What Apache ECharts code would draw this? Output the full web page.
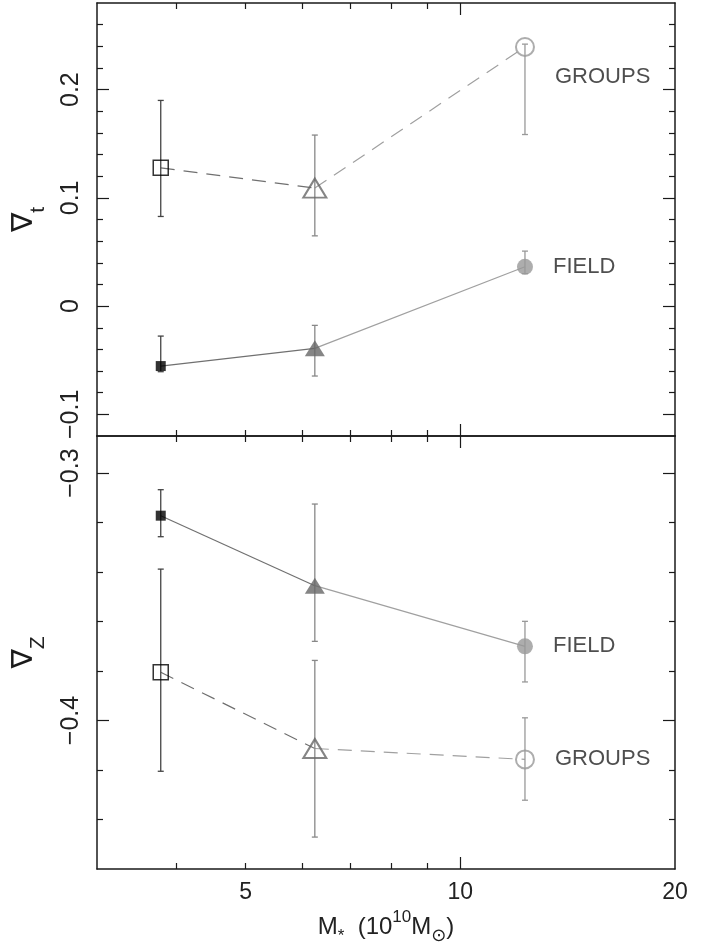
<!DOCTYPE html>
<html>
<head>
<meta charset="utf-8">
<script src="https://cdn.jsdelivr.net/npm/echarts@6/dist/echarts.min.js"></script>
<style>
html,body{margin:0;padding:0;background:#fff;}
#chart{width:709px;height:943px;}
</style>
</head>
<body>
<div id="chart"></div>
<script>
// ---- data ----
const stellarMass = [3.80, 6.25, 12.32];          // 10^10 Msun

const gradTField    = [-0.0554, -0.0390, 0.0363];
const gradTFieldLo  = [-0.0606, -0.0646, 0.0300];
const gradTFieldHi  = [-0.0277, -0.0178, 0.0508];
const gradTGroups   = [0.1277, 0.1090, 0.2394];
const gradTGroupsLo = [0.0828, 0.0649, 0.1585];
const gradTGroupsHi = [0.1900, 0.1580, 0.2420];

const gradZField    = [-0.3172, -0.3455, -0.3700];
const gradZFieldLo  = [-0.3257, -0.3680, -0.3844];
const gradZFieldHi  = [-0.3067, -0.3125, -0.3599];
const gradZGroups   = [-0.3805, -0.4113, -0.4157];
const gradZGroupsLo = [-0.4205, -0.4471, -0.4322];
const gradZGroupsHi = [-0.3388, -0.3757, -0.3989];

// ---- ticks ----
const massLabelTicks = [5, 10, 20];
const massMajorTicks = [10];
const massMinorTicks = [4, 5, 6, 7, 8, 9];
const tMajorTicks = [-0.1, 0, 0.1, 0.2];
const tMinorTicks = [-0.08, -0.06, -0.04, -0.02, 0.02, 0.04, 0.06, 0.08, 0.12, 0.14, 0.16, 0.18, 0.22, 0.24, 0.26];
const zMajorTicks = [-0.4, -0.3];
const zMinorTicks = [-0.44, -0.42, -0.38, -0.36, -0.34, -0.32];
const groupLabels = ['GROUPS', 'FIELD'];

// ---- styling ----
const XMIN = 3.093, XMAX = 20;
const T_RANGE = [-0.12, 0.28];
const Z_RANGE = [-0.46, -0.285];
const INK = '#1a1a1a';
const TXT = '#222222';
const pointColors = ['#000000', '#666666', '#999999'];
const barColors = ['#444444', '#888888', '#999999'];
const segColors = ['#707070', '#a0a0a0'];
const LABEL_FONT = '"Liberation Sans", Arial, sans-serif';

function fmtNum(v) {
  let s = String(Math.round(v * 1000) / 1000);
  return s.replace('-', '\u2212');
}

function xAxesFor(g) {
  const common = {
    type: 'log', logBase: 10, min: XMIN, max: XMAX, gridIndex: g,
    splitLine: {show: false}, minorTick: {show: false}, minorSplitLine: {show: false}
  };
  const axes = [];
  ['bottom', 'top'].forEach(pos => {
    axes.push(Object.assign({}, common, {
      position: pos,
      axisLine: {show: true, onZero: false, lineStyle: {color: INK, width: 1.5}},
      axisTick: {show: true, inside: true, length: 12, customValues: massMajorTicks, lineStyle: {color: INK, width: 1.2}},
      axisLabel: (g === 1 && pos === 'bottom') ? {
        show: true, customValues: massLabelTicks, margin: 12,
        fontSize: 23, fontFamily: LABEL_FONT, fontWeight: 'normal', color: TXT,
        formatter: v => String(Math.round(v))
      } : {show: false},
      name: (g === 1 && pos === 'bottom') ? '{m|M}{sub|*}{m|\u00a0\u00a0(10}{sup|10}{m|M}{sun|\u2299}{m|)}' : '',
      nameLocation: 'middle', nameGap: 40,
      nameTextStyle: {
        rich: {
          m:   {fontSize: 24, fontFamily: LABEL_FONT, color: TXT, verticalAlign: 'middle'},
          sup: {fontSize: 17, fontFamily: LABEL_FONT, color: TXT, verticalAlign: 'top'},
          sub: {fontSize: 17, fontFamily: LABEL_FONT, color: TXT, verticalAlign: 'bottom'},
          sun: {fontSize: 18, fontFamily: '"DejaVu Sans"', color: TXT, verticalAlign: 'bottom'}
        },
        lineHeight: 36, height: 36
      }
    }));
  });
  ['bottom', 'top'].forEach(pos => {
    axes.push(Object.assign({}, common, {
      position: pos,
      axisLine: {show: false, onZero: false},
      axisTick: {show: true, inside: true, length: 6, customValues: massMinorTicks, lineStyle: {color: INK, width: 1.2}},
      axisLabel: {show: false}
    }));
  });
  return axes;
}

function yAxesFor(g, range, major, minor, nameSub) {
  const common = {
    type: 'value', min: range[0], max: range[1], gridIndex: g,
    splitLine: {show: false}, minorTick: {show: false}
  };
  const axes = [];
  ['left', 'right'].forEach(pos => {
    axes.push(Object.assign({}, common, {
      position: pos,
      axisLine: {show: true, onZero: false, lineStyle: {color: INK, width: 1.5}},
      axisTick: {show: true, inside: true, length: 12, customValues: major, lineStyle: {color: INK, width: 1.2}},
      axisLabel: pos === 'left' ? {
        show: true, customValues: major, rotate: 90, margin: 13,
        fontSize: 25, fontFamily: LABEL_FONT, fontWeight: 'normal', color: TXT,
        formatter: v => fmtNum(v)
      } : {show: false},
      name: pos === 'left' ? '{n|\u2207}{s|' + nameSub + '}' : '',
      nameLocation: 'middle', nameGap: 48,
      nameTextStyle: {
        rich: {
          n: {fontSize: 29, fontFamily: '"DejaVu Sans"', fontWeight: 'normal', color: INK, verticalAlign: 'top'},
          s: {fontSize: 21, fontFamily: LABEL_FONT, color: TXT, verticalAlign: 'bottom', padding: [18, 0, 0, 0]}
        }
      }
    }));
  });
  ['left', 'right'].forEach(pos => {
    axes.push(Object.assign({}, common, {
      position: pos,
      axisLine: {show: false, onZero: false},
      axisTick: {show: true, inside: true, length: 6, customValues: minor, lineStyle: {color: INK, width: 1.2}},
      axisLabel: {show: false}
    }));
  });
  return axes;
}

function errorBars(xi, yi, lo, hi) {
  return {
    type: 'custom', xAxisIndex: xi, yAxisIndex: yi, z: 3,
    data: stellarMass.map((m, i) => [m, lo[i], hi[i], i]),
    encode: {x: 0, y: [1, 2]},
    renderItem: function (params, api) {
      const x = api.value(0), l = api.value(1), h = api.value(2), i = api.value(3);
      const pt = api.coord([x, h]), pb = api.coord([x, l]);
      const st = {stroke: barColors[i], lineWidth: 1.3};
      const c = 3;
      return {type: 'group', children: [
        {type: 'line', shape: {x1: pt[0], y1: pt[1], x2: pb[0], y2: pb[1]}, style: st},
        {type: 'line', shape: {x1: pt[0] - c, y1: pt[1], x2: pt[0] + c, y2: pt[1]}, style: st},
        {type: 'line', shape: {x1: pb[0] - c, y1: pb[1], x2: pb[0] + c, y2: pb[1]}, style: st}
      ]};
    }
  };
}

function segments(xi, yi, vals, dashed) {
  const out = [];
  for (let i = 0; i < stellarMass.length - 1; i++) {
    out.push({
      type: 'line', xAxisIndex: xi, yAxisIndex: yi, z: 2,
      symbol: 'none', silent: true,
      data: [[stellarMass[i], vals[i]], [stellarMass[i + 1], vals[i + 1]]],
      lineStyle: {color: segColors[i], width: 1.2, type: dashed ? [14, 9] : 'solid'}
    });
  }
  return out;
}

function markers(xi, yi, vals, open, labelText, labelOffsetY) {
  const shapes = ['rect', 'triangle', 'circle'];
  const sizes = open ? [15, [23, 19], 18] : [10, [20, 16], 16];
  return {
    type: 'scatter', xAxisIndex: xi, yAxisIndex: yi, z: 5,
    data: stellarMass.map((m, i) => ({
      value: [m, vals[i]],
      symbol: shapes[i],
      symbolSize: sizes[i],
      itemStyle: open
        ? {color: 'rgba(0,0,0,0)', borderColor: pointColors[i], borderWidth: i === 0 ? 1.5 : 2}
        : {color: pointColors[i], borderWidth: 0},
      label: i === stellarMass.length - 1 ? {
        show: true, position: 'right', distance: 20, offset: [0, labelOffsetY],
        formatter: labelText, fontSize: 22, fontFamily: LABEL_FONT, fontWeight: 'normal', color: TXT
      } : {show: false}
    }))
  };
}

// axis index bases: grid0 x:0..3, grid1 x:4..7 ; y likewise
const series = [].concat(
  // top panel (grad t)
  segments(0, 0, gradTGroups, true),
  segments(0, 0, gradTField, false),
  [errorBars(0, 0, gradTGroupsLo, gradTGroupsHi),
   errorBars(0, 0, gradTFieldLo, gradTFieldHi),
   markers(0, 0, gradTGroups, true, groupLabels[0], 30),
   markers(0, 0, gradTField, false, groupLabels[1], 0)],
  // bottom panel (grad Z)
  segments(4, 4, gradZGroups, true),
  segments(4, 4, gradZField, false),
  [errorBars(4, 4, gradZGroupsLo, gradZGroupsHi),
   errorBars(4, 4, gradZFieldLo, gradZFieldHi),
   markers(4, 4, gradZGroups, true, groupLabels[0], 0),
   markers(4, 4, gradZField, false, groupLabels[1], 0)]
);

const option = {
  animation: false,
  backgroundColor: '#fff',
  grid: [
    {left: 97, right: 34, top: 3, height: 433, outerBoundsMode: 'none', containLabel: false},
    {left: 97, right: 34, top: 436, height: 433, outerBoundsMode: 'none', containLabel: false}
  ],
  xAxis: [].concat(xAxesFor(0), xAxesFor(1)),
  yAxis: [].concat(
    yAxesFor(0, T_RANGE, tMajorTicks, tMinorTicks, 't'),
    yAxesFor(1, Z_RANGE, zMajorTicks, zMinorTicks, 'Z')
  ),
  series: series
};

const chart = echarts.init(document.getElementById('chart'), null, {renderer: 'canvas'});
chart.setOption(option);
</script>
</body>
</html>
